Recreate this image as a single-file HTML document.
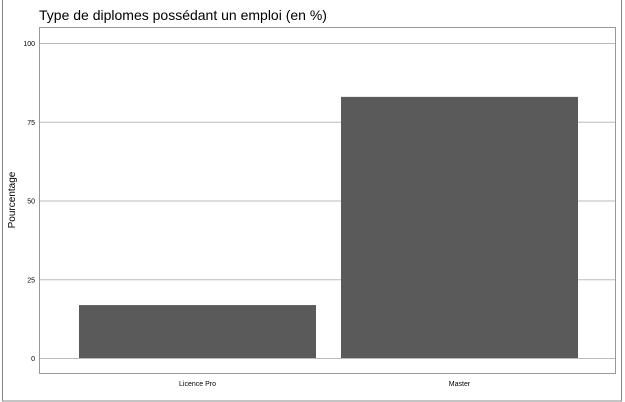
<!DOCTYPE html>
<html><head><meta charset="utf-8"><style>
body{margin:0;background:#fff;}
svg{display:block;font-family:"Liberation Sans",Arial,sans-serif;}
</style></head><body>
<svg width="625" height="402">
<rect x="2.5" y="-1" width="619" height="402" fill="none" stroke="#888"/>
<text x="39" y="20" font-size="14" fill="#000">Type de diplomes possédant un emploi (en %)</text>
<rect x="39.5" y="27.5" width="576" height="346" fill="#fff" stroke="#999"/>
<text transform="translate(15,200) rotate(-90)" text-anchor="middle" font-size="10">Pourcentage</text>
<g id="grid"></g><g id="bars"></g><g id="labels"></g>
</svg>
<script>
const categories=["Licence Pro","Master"];
const values=[16.8,82.9];
const ticks=[0,25,50,75,100];
const tickLabels=["0","25","50","75","100"];
const ns="http://www.w3.org/2000/svg";
const y=v=>358-v*3.15;
const x0=66.5,bandW=262;
const xc=i=>x0+bandW*(i+0.5);
const barW=237;
const grid=document.getElementById('grid'),bars=document.getElementById('bars'),labels=document.getElementById('labels');
ticks.forEach((t,i)=>{
 const l=document.createElementNS(ns,'line');
 l.setAttribute('x1',40);l.setAttribute('x2',615);l.setAttribute('y1',y(t)+0.5);l.setAttribute('y2',y(t)+0.5);
 l.setAttribute('stroke','#bbb');
 
 
 grid.appendChild(l);
 const tx=document.createElementNS(ns,'text');
 tx.setAttribute('x',35);tx.setAttribute('y',y(t)+3);tx.setAttribute('text-anchor','end');tx.setAttribute('font-size','7');
 tx.textContent=tickLabels[i];
 
 
 labels.appendChild(tx);
});
categories.forEach((c,i)=>{
 const r=document.createElementNS(ns,'rect');
 r.setAttribute('x',xc(i)-barW/2);r.setAttribute('width',barW);
 r.setAttribute('y',y(values[i]));r.setAttribute('height',y(0)-y(values[i]));
 r.setAttribute('fill','#5a5a5a');
 
 
 bars.appendChild(r);
 const tx=document.createElementNS(ns,'text');
 tx.setAttribute('x',xc(i));tx.setAttribute('y',386);tx.setAttribute('text-anchor','middle');tx.setAttribute('font-size','7');
 tx.textContent=c;
 
 
 labels.appendChild(tx);
});
</script>
</body></html>
